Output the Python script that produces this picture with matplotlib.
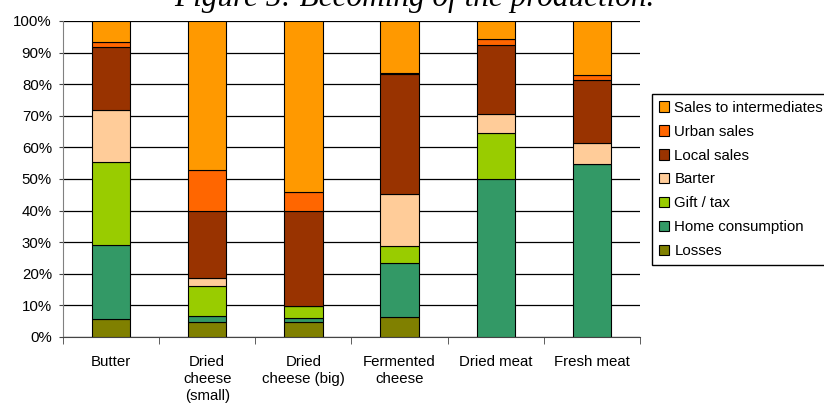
import numpy as np
import matplotlib
matplotlib.use('Agg')
import matplotlib.pyplot as plt
from matplotlib.patches import Patch

plt.rcParams['font.family'] = 'Liberation Sans'

categories = ['Butter', 'Dried\ncheese\n(small)', 'Dried\ncheese (big)', 'Fermented\ncheese', 'Dried meat', 'Fresh meat']
series = ['Losses', 'Home consumption', 'Gift / tax', 'Barter', 'Local sales', 'Urban sales', 'Sales to intermediates']
colors = ['#808000', '#339966', '#99CC00', '#FFCC99', '#993300', '#FF6600', '#FF9900']

losses = [5.7, 4.7, 4.7, 6.3, 0.0, 0.0]
home = [23.5, 2.0, 1.2, 17.1, 50.0, 54.6]
gift = [26.3, 9.5, 4.0, 5.4, 14.7, 0.0]
barter = [16.2, 2.6, 0.0, 16.5, 6.0, 6.9]
local = [20.0, 21.0, 29.9, 38.0, 21.6, 19.7]
urban = [1.6, 13.1, 6.2, 0.3, 1.9, 1.6]
inter = [6.7, 47.1, 54.0, 16.4, 5.8, 17.2]

data = [losses, home, gift, barter, local, urban, inter]

fig = plt.figure(figsize=(8.24, 4.07), dpi=100)
ax = fig.add_axes([63/824, 70/407, 577/824, 316/407])

x = np.arange(len(categories))
bottom = np.zeros(len(categories))
handles = []
for name, vals, c in zip(series, data, colors):
    vals = np.array(vals)
    ax.bar(x, vals, 0.4, bottom=bottom, color=c, edgecolor='black', linewidth=0.8, zorder=3)
    bottom += vals
    handles.append(Patch(facecolor=c, edgecolor='black', linewidth=0.8, label=name))

ax.set_xlim(-0.5, len(categories) - 0.5)
ax.set_ylim(0, 100)
ax.set_yticks(np.arange(0, 101, 10))
ax.set_yticklabels(['%d%%' % v for v in range(0, 101, 10)])
ax.yaxis.grid(True, color='black', linewidth=0.9, zorder=0)

ax.set_xticks(x)
ax.set_xticklabels(categories, linespacing=1.25)
ax.set_xticks(np.arange(-0.5, len(categories), 1), minor=True)
ax.tick_params(axis='x', which='major', length=0, pad=13, labelsize=10.8)
ax.tick_params(axis='x', which='minor', length=5, color='#444444')
ax.tick_params(axis='y', length=3, color='#444444', labelsize=10.8, pad=5)

ax.spines['top'].set_visible(False)
ax.spines['right'].set_visible(False)
ax.spines['left'].set_color('#808080')
ax.spines['bottom'].set_color('#444444')

leg = fig.legend(handles=handles[::-1], loc='upper left', bbox_to_anchor=(652/824, 1 - 94/407),
                 borderaxespad=0, fancybox=False, edgecolor='black', fontsize=10.8,
                 handlelength=0.7, handleheight=0.7, handletextpad=0.35, labelspacing=0.66,
                 borderpad=0.45, framealpha=1)
leg.get_frame().set_linewidth(1.0)

fig.text(0.503, 1 - 6/407, 'Figure 5: Becoming of the production.', ha='center', va='baseline',
         family='Liberation Serif', style='italic', fontsize=22.5)

fig.savefig('out.png', dpi=100)
